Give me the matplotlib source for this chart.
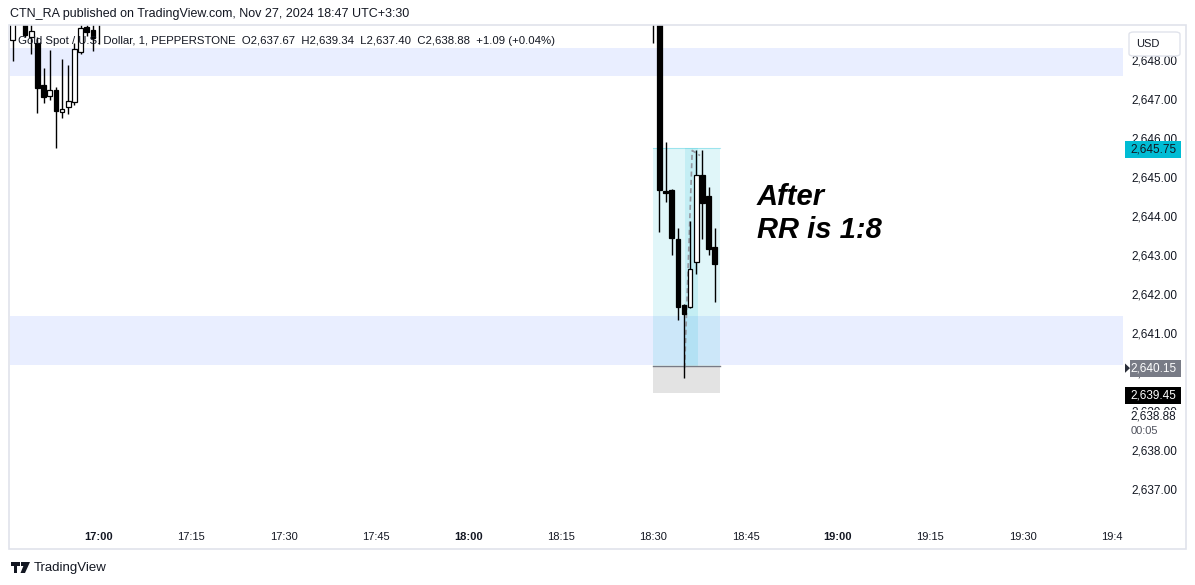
import matplotlib
matplotlib.use("Agg")
import matplotlib.pyplot as plt
from matplotlib.patches import Rectangle, Polygon, FancyBboxPatch
from matplotlib.transforms import blended_transform_factory, Bbox

plt.rcParams['font.family'] = ['Liberation Sans', 'DejaVu Sans']

# ---------------- data ----------------
times = ["16:46", "16:48", "16:49", "16:50", "16:51", "16:52", "16:53", "16:54",
         "16:55", "16:56", "16:57", "16:58", "16:59", "17:00",
         "18:30", "18:31", "18:32", "18:33", "18:34", "18:35", "18:36", "18:37",
         "18:38", "18:39", "18:40"]
opens = [2648.51, 2649.00, 2648.59, 2648.44, 2647.36, 2647.08, 2647.23, 2646.67,
         2646.79, 2646.92, 2648.21, 2648.85, 2648.77, 2649.30,
         2649.60, 2650.80, 2644.64, 2644.67, 2643.41, 2641.72, 2641.67, 2642.82,
         2645.05, 2644.51, 2643.21]
highs = [2649.40, 2649.10, 2649.10, 2648.60, 2647.79, 2648.26, 2647.30, 2648.03,
         2647.87, 2648.44, 2649.10, 2649.00, 2649.00, 2649.40,
         2649.90, 2650.90, 2645.90, 2644.70, 2643.69, 2641.75, 2643.87, 2645.69,
         2645.69, 2644.74, 2643.69]
lows = [2647.97, 2648.60, 2648.15, 2646.64, 2646.90, 2646.97, 2645.74, 2646.51,
        2646.62, 2646.85, 2648.15, 2648.62, 2648.23, 2648.41,
        2648.44, 2643.59, 2644.36, 2643.00, 2641.33, 2639.85, 2641.64, 2642.51,
        2643.41, 2643.00, 2641.79]
closes = [2649.20, 2648.64, 2648.74, 2647.28, 2647.05, 2647.23, 2646.69, 2646.74,
          2646.95, 2648.28, 2648.82, 2648.72, 2648.56, 2649.00,
          2649.20, 2644.67, 2644.59, 2643.44, 2641.67, 2641.49, 2642.64, 2645.05,
          2644.33, 2643.15, 2642.77]

zone_top = (2647.59, 2648.31)
zone_bottom = (2640.18, 2641.44)

pos_start, pos_end = "18:30", "18:40:48"
pos_entry, pos_target, pos_stop = 2640.15, 2645.75, 2639.45
move_times = ["18:35:06", "18:36:20", "18:37:36"]
move_prices = [2640.10, 2645.68, 2645.55]

time_ticks = ["17:00", "17:15", "17:30", "17:45", "18:00", "18:15", "18:30",
              "18:45", "19:00", "19:15", "19:30", "19:45"]
price_ticks = [2637, 2638, 2639, 2640, 2641, 2642, 2643, 2644, 2645, 2646, 2647, 2648]
current_price, countdown = 2638.88, "00:05"

header = "CTN_RA published on TradingView.com, Nov 27, 2024 18:47 UTC+3:30"
legend = ("Gold Spot / U.S. Dollar, 1, PEPPERSTONE  O2,637.67  H2,639.34  "
          "L2,637.40  C2,638.88  +1.09 (+0.04%)")
note = "After\nRR is 1:8"
note_time, note_price = "18:46:50", 2643.44


def tmin(s):
    parts = [int(p) for p in s.split(":")]
    m = (parts[0] - 17) * 60 + parts[1]
    if len(parts) > 2:
        m += parts[2] / 60
    return m


# ---------------- figure ----------------
W, H = 1195, 585
fig = plt.figure(figsize=(W / 100, H / 100), dpi=100)
fig.patch.set_facecolor("white")


def fx(px):
    return px / W


def fy(py):
    return 1 - py / H


L, R, T, B = 10, 1123, 25, 520
ax = fig.add_axes([fx(L), fy(B), (R - L) / W, (B - T) / H])
ppm = 6.158
ax.set_xlim((L - 99) / ppm, (R - 99) / ppm)
ax.set_ylim(2640 - (B - 372) / 39, 2640 + (372 - T) / 39)
for s in ax.spines.values():
    s.set_visible(False)

# zones
blue = (41 / 255, 98 / 255, 1.0, 0.10)
for lo, hi in (zone_top, zone_bottom):
    ax.axhspan(lo, hi, color=blue, lw=0, zorder=1)

# long position tool
cyan = (0, 188 / 255, 212 / 255, 0.12)
x0, x1 = tmin(pos_start) - 0.05, tmin(pos_end)
ax.add_patch(Rectangle((x0, pos_entry), x1 - x0, pos_target - pos_entry,
                       facecolor=cyan, lw=0, zorder=1.5))
ax.plot([x0, x1], [pos_target, pos_target], color=(0, 188 / 255, 212 / 255, 0.3),
        lw=0.8, zorder=1.6)
ax.add_patch(Rectangle((x0, pos_stop), x1 - x0, pos_entry - pos_stop,
                       facecolor="#e3e3e3", lw=0, zorder=1.5))
mx0, mx1 = tmin(move_times[0]), tmin(move_times[-1]) - 0.3
ax.add_patch(Rectangle((mx0, pos_entry), mx1 - mx0, pos_target - pos_entry,
                       facecolor=cyan, lw=0, zorder=1.6))
ax.plot([x0, x1], [pos_entry, pos_entry], color="#787b86", lw=1.0, zorder=1.7)
ax.plot([tmin(t) for t in move_times], move_prices, color="#9598a1", lw=1.2,
        ls=(0, (3, 2)), zorder=1.8)

# candles
w = 0.75
for t, o, h, l, c in zip(times, opens, highs, lows, closes):
    m = tmin(t)
    ax.vlines(m, l, h, color="black", lw=1.0, zorder=3)
    up = c >= o
    ax.add_patch(Rectangle((m - w / 2, min(o, c)), w, max(abs(c - o), 0.03),
                           facecolor="white" if up else "black",
                           edgecolor="black", lw=0.9, zorder=4))

# axes ticks
ax.set_xticks([tmin(t) for t in time_ticks])
ax.set_xticklabels(time_ticks)
ax.tick_params(axis="x", length=0, pad=8.5, labelsize=8, labelcolor="#131722")
clip = Bbox.from_extents(0, 0, R, H)
for lab, t in zip(ax.get_xticklabels(), time_ticks):
    if t.endswith(":00"):
        lab.set_fontweight("bold")
    lab.set_clip_on(True)
    lab.set_clip_box(clip)
ax.yaxis.tick_right()
ax.set_yticks(price_ticks)
ax.set_yticklabels([f"{p:,.2f}" for p in price_ticks])
ax.tick_params(axis="y", length=0, pad=5.8, labelsize=8.5, labelcolor="#131722")

# chart text
ax.text(tmin(note_time), note_price, note, fontsize=21, fontweight="bold",
        style="italic", color="black", va="baseline", ha="left",
        linespacing=1.2, zorder=6)

# price-axis labels
bt = blended_transform_factory(fig.transFigure, ax.transData)
shift = 2 / 39  # labels sit ~2 px below their price


def price_box(price, bg, fg, left=1125, right=1181, hpx=17):
    hh = hpx / 39
    yc = price - shift
    ax.add_patch(Rectangle((fx(left), yc - hh / 2), fx(right) - fx(left), hh,
                           transform=bt, facecolor=bg, lw=0, clip_on=False, zorder=10))
    ax.text(fx(1130), yc, f"{price:,.2f}", transform=bt, fontsize=8.5,
            color=fg, va="center", ha="left", clip_on=False, zorder=11)


price_box(pos_target, "#00bcd4", "#131722")
price_box(pos_entry, "#787b86", "white", left=1130)
ax.add_patch(Polygon([[fx(1125), pos_entry - shift + 0.12],
                      [fx(1130), pos_entry - shift],
                      [fx(1125), pos_entry - shift - 0.12]], closed=True, transform=bt,
                     facecolor="#2a2e39", lw=0, clip_on=False, zorder=10))
price_box(pos_stop, "black", "white")
ax.add_patch(Rectangle((fx(1125), current_price - 0.57), fx(1181) - fx(1125), 0.72,
                       transform=bt, facecolor="white", lw=0, clip_on=False, zorder=10))
ax.text(fx(1130), current_price - 0.02, f"{current_price:,.2f}", transform=bt,
        fontsize=8.5, color="#131722", va="center", ha="left", clip_on=False,
        zorder=11)
ax.text(fx(1131), current_price - 0.38, countdown, transform=bt, fontsize=8,
        color="#50535e", va="center", ha="left", clip_on=False, zorder=11)

# USD box
fig.patches.append(FancyBboxPatch((fx(1129), fy(56)), fx(1180) - fx(1129),
                                  fy(32) - fy(56),
                                  boxstyle="round,pad=0,rounding_size=0.004",
                                  transform=fig.transFigure, facecolor="white",
                                  edgecolor="#e0e3eb", lw=1, zorder=5))
fig.text(fx(1136), fy(44), "USD", fontsize=8, color="#131722", va="center",
         ha="left", zorder=6)

# frame
fig.patches.append(Rectangle((fx(9), fy(549)), fx(1186) - fx(9), fy(25) - fy(549),
                             transform=fig.transFigure, fill=False,
                             edgecolor="#e0e3eb", lw=1.2, zorder=4))

# header / legend / footer
fig.text(fx(10), fy(14), header, fontsize=9, color="#131722", va="center", ha="left")
fig.text(fx(18), fy(41), legend, fontsize=8.2, color="#131722", va="center",
         ha="left", zorder=6)
logo_t = [[11, 562], [20, 562], [20, 566], [17, 566], [17, 573], [13.5, 573],
          [13.5, 566], [11, 566]]
fig.patches.append(Polygon([[fx(x), fy(y)] for x, y in logo_t], closed=True,
                           transform=fig.transFigure, facecolor="#131722", lw=0))
fig.patches.append(Polygon([[fx(x), fy(y)] for x, y in
                            [[25, 562], [30, 562], [25, 573], [20.5, 573]]],
                           closed=True, transform=fig.transFigure,
                           facecolor="#131722", lw=0))
fig.patches.append(Rectangle((fx(21), fy(566)), fx(3.5), fy(562) - fy(566),
                             transform=fig.transFigure, facecolor="#131722", lw=0))
fig.text(fx(34), fy(568), "TradingView", fontsize=9.5, color="#131722",
         va="center", ha="left")

fig.savefig("out.png", dpi=100, facecolor="white")
